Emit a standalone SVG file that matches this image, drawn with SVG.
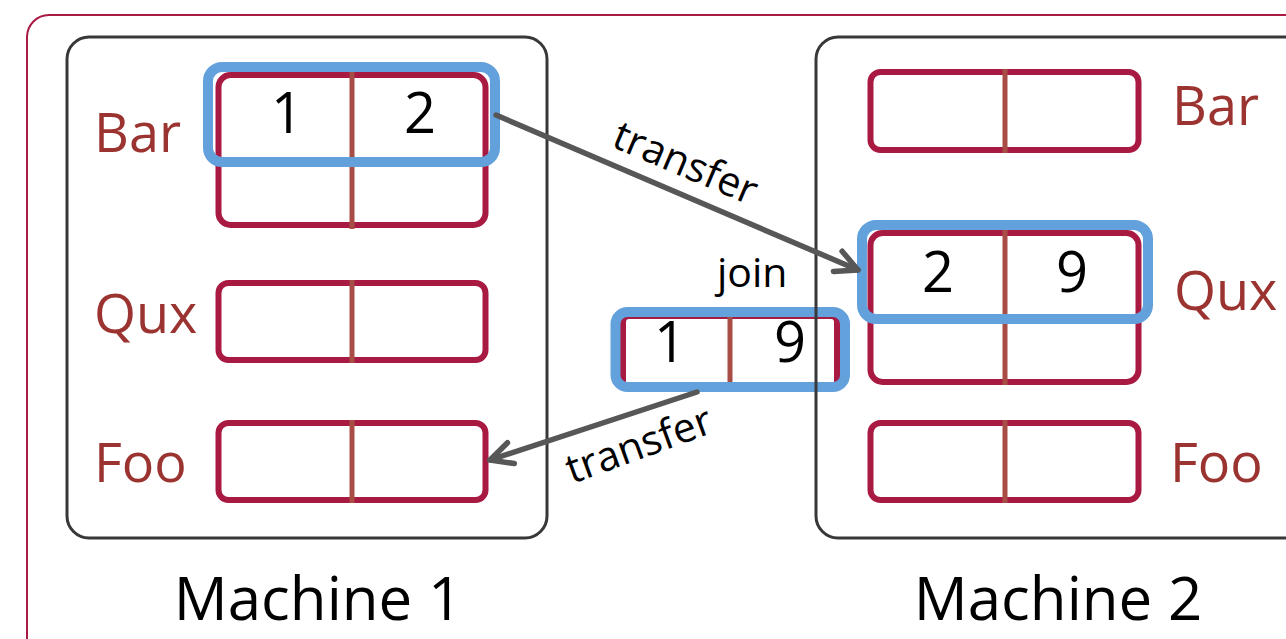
<svg xmlns="http://www.w3.org/2000/svg" width="1286" height="639" viewBox="0 0 1286 639">
  <style>
    .frame { fill: none; stroke: #A91A43; stroke-width: 2; }
    .machine { fill: none; stroke: #383838; stroke-width: 3; }
    .table { fill: #FFFFFF; stroke: #A91A43; stroke-width: 6; }
    .divider { stroke: #A84D45; stroke-width: 5; }
    .hl { fill: none; stroke: #62A1DC; stroke-width: 10; }
    .lbl { font-family: "Open Sans", "Liberation Sans", sans-serif; font-size: 54px; fill: #9B3431; }
    .num { font-family: "Open Sans", "Liberation Sans", sans-serif; font-size: 56px; fill: #000000; text-anchor: middle; }
    .cap { font-family: "Open Sans", "Liberation Sans", sans-serif; font-size: 60px; fill: #000000; text-anchor: middle; }
    .edge { font-family: "Open Sans", "Liberation Sans", sans-serif; font-size: 41px; fill: #000000; }
    .arrow { fill: none; stroke: #575757; stroke-width: 5.5; stroke-linecap: round; }
  </style>
  <defs>
    <marker id="open" markerUnits="userSpaceOnUse" markerWidth="40" markerHeight="40" viewBox="-30 -20 40 40" refX="0" refY="0" orient="auto">
      <path d="M -22,-11 L 0,0 L -22,11" fill="none" stroke="#575757" stroke-width="5.5" stroke-linecap="round" stroke-linejoin="round"/>
    </marker>
  </defs>

  <rect width="1286" height="639" fill="#FFFFFF"/>
  <rect class="frame" x="27" y="15" width="1300" height="660" rx="22"/>

  <!-- Machine 1 -->
  <g id="machine1">
    <rect class="machine" x="67" y="37" width="480" height="501" rx="22"/>
    <text class="cap" x="318" y="620">Machine 1</text>
  </g>

  <g id="m1-bar">
    <text class="lbl" x="94" y="152">Bar</text>
    <rect class="table" x="218.5" y="75" width="267" height="150" rx="12"/>
    <line class="divider" x1="352" y1="72" x2="352" y2="229"/>
    <text class="num" x="287" y="133">1</text>
    <text class="num" x="420" y="133">2</text>
    <rect class="hl" x="208" y="67" width="287" height="95" rx="14"/>
  </g>

  <g id="m1-qux">
    <text class="lbl" x="94" y="333">Qux</text>
    <rect class="table" x="218.5" y="283" width="267" height="77" rx="10"/>
    <line class="divider" x1="352" y1="280" x2="352" y2="363"/>
  </g>

  <g id="m1-foo">
    <text class="lbl" x="94" y="482">Foo</text>
    <rect class="table" x="218.5" y="423" width="267" height="77" rx="10"/>
    <line class="divider" x1="352" y1="420" x2="352" y2="503"/>
  </g>

  <!-- Join result -->
  <g id="join">
    <text class="edge" x="717" y="287" font-size="44">join</text>
    <rect class="table" x="623" y="316" width="214" height="72" rx="6"/>
    <line class="divider" x1="730" y1="313" x2="730" y2="391"/>
    <text class="num" x="670" y="362">1</text>
    <text class="num" x="790" y="362">9</text>
    <rect class="hl" x="615.5" y="312" width="229.5" height="75" rx="12"/>
  </g>

  <!-- Machine 2 -->
  <g id="machine2">
    <rect class="machine" x="816" y="37" width="520" height="501" rx="22"/>
    <text class="cap" x="1058" y="620">Machine 2</text>
  </g>

  <g id="m2-bar">
    <rect class="table" x="870.5" y="72" width="268" height="78" rx="10"/>
    <line class="divider" x1="1005" y1="69" x2="1005" y2="153"/>
    <text class="lbl" x="1172" y="125">Bar</text>
  </g>

  <g id="m2-qux">
    <rect class="table" x="870.5" y="233" width="268" height="149" rx="12"/>
    <line class="divider" x1="1005" y1="230" x2="1005" y2="385"/>
    <text class="num" x="938" y="292">2</text>
    <text class="num" x="1072" y="292">9</text>
    <rect class="hl" x="862" y="225" width="286" height="94" rx="14"/>
    <text class="lbl" x="1174" y="310">Qux</text>
  </g>

  <g id="m2-foo">
    <rect class="table" x="870.5" y="423" width="268" height="77" rx="10"/>
    <line class="divider" x1="1005" y1="420" x2="1005" y2="503"/>
    <text class="lbl" x="1170" y="482">Foo</text>
  </g>

  <!-- Connectors -->
  <g id="connectors">
    <line class="arrow" x1="496" y1="115" x2="858" y2="270" marker-end="url(#open)"/>
    <text class="edge" transform="translate(610,146) rotate(23)">transfer</text>
    <line class="arrow" x1="697" y1="392" x2="490" y2="460" marker-end="url(#open)"/>
    <text class="edge" transform="translate(572,484) rotate(-20)">transfer</text>
  </g>
</svg>
